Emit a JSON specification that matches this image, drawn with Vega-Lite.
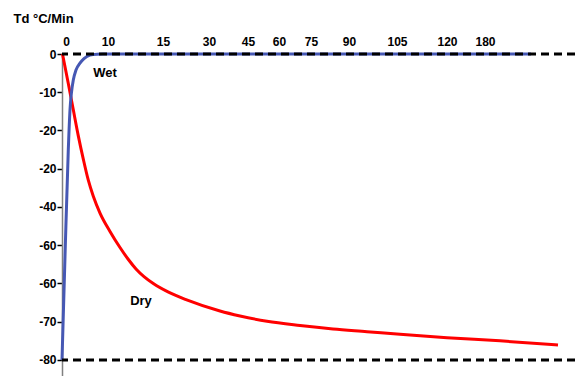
{
  "$schema": "https://vega.github.io/schema/vega-lite/v6.json",
  "width": 513,
  "height": 322,
  "autosize": {"type": "none"},
  "padding": {"left": 62, "top": 54, "right": 0, "bottom": 0},
  "background": "white",
  "config": {
    "view": {"stroke": null},
    "font": "Liberation Sans",
    "axis": {"grid": false, "labelFont": "Liberation Sans", "labelFontWeight": "bold", "labelFontSize": 12, "labelColor": "black", "titleFont": "Liberation Sans"}
  },
  "datasets": {
    "curves": [
      {"u": 0.5, "v": 0, "series": "Dry"},
      {"u": 6.3, "v": -7.7, "series": "Dry"},
      {"u": 11.3, "v": -14.6, "series": "Dry"},
      {"u": 16.3, "v": -21.4, "series": "Dry"},
      {"u": 21.3, "v": -27.5, "series": "Dry"},
      {"u": 26.3, "v": -33.0, "series": "Dry"},
      {"u": 31.3, "v": -37.2, "series": "Dry"},
      {"u": 38, "v": -41.6, "series": "Dry"},
      {"u": 48, "v": -46.4, "series": "Dry"},
      {"u": 58, "v": -50.6, "series": "Dry"},
      {"u": 66, "v": -53.6, "series": "Dry"},
      {"u": 74, "v": -56.2, "series": "Dry"},
      {"u": 82, "v": -58.2, "series": "Dry"},
      {"u": 91.3, "v": -60.0, "series": "Dry"},
      {"u": 106, "v": -62.2, "series": "Dry"},
      {"u": 124.7, "v": -64.3, "series": "Dry"},
      {"u": 158, "v": -67.2, "series": "Dry"},
      {"u": 178, "v": -68.5, "series": "Dry"},
      {"u": 205, "v": -69.9, "series": "Dry"},
      {"u": 238, "v": -71.0, "series": "Dry"},
      {"u": 271, "v": -71.9, "series": "Dry"},
      {"u": 305, "v": -72.6, "series": "Dry"},
      {"u": 338, "v": -73.3, "series": "Dry"},
      {"u": 385, "v": -74.2, "series": "Dry"},
      {"u": 438, "v": -75.0, "series": "Dry"},
      {"u": 496, "v": -76.1, "series": "Dry"},
      {"u": 0, "v": -80, "series": "Wet"},
      {"u": 3, "v": -53, "series": "Wet"},
      {"u": 6.3, "v": -25, "series": "Wet"},
      {"u": 8, "v": -14.6, "series": "Wet"},
      {"u": 9.5, "v": -10, "series": "Wet"},
      {"u": 11.3, "v": -6.8, "series": "Wet"},
      {"u": 14, "v": -4.2, "series": "Wet"},
      {"u": 18, "v": -2.4, "series": "Wet"},
      {"u": 22, "v": -1.2, "series": "Wet"},
      {"u": 28, "v": -0.3, "series": "Wet"},
      {"u": 35, "v": -0.05, "series": "Wet"},
      {"u": 41, "v": 0, "series": "Wet"},
      {"u": 469, "v": 0, "series": "Wet"}
    ],
    "refs": [{"v": 0}, {"v": -80}],
    "labels": [
      {"u": 43, "v": -5.0, "label": "Wet"},
      {"u": 79, "v": -64.6, "label": "Dry"}
    ]
  },
  "layer": [
    {
      "data": {"name": "curves"},
      "mark": {"type": "line", "strokeWidth": 3, "interpolate": "monotone"},
      "encoding": {
        "x": {
          "field": "u", "type": "quantitative",
          "scale": {"domain": [0, 513], "nice": false, "zero": false},
          "axis": {
            "orient": "top", "title": null, "domain": false, "ticks": false, "labelPadding": 6,
            "values": [4, 46, 101, 147, 186, 217, 249, 287, 335, 385, 423],
            "labelExpr": "['0','10','15','30','45','60','75','90','105','120','180'][indexof([4,46,101,147,186,217,249,287,335,385,423], datum.value)]",
            "labelFontSize": 12
          }
        },
        "y": {
          "field": "v", "type": "quantitative",
          "scale": {"domain": [-84.2, 0], "nice": false, "zero": false},
          "axis": {
            "title": "Td °C/Min", "titleAngle": 0, "titleAlign": "left", "titleBaseline": "alphabetic",
            "titleX": -49, "titleY": -32, "titleFontSize": 13, "titleFontWeight": "bold", "titleColor": "black",
            "values": [0, -10, -20, -30, -40, -50, -60, -70, -80],
            "labelExpr": "['0','-10','-20','-20','-40','-60','-60','-70','-80'][indexof([0,-10,-20,-30,-40,-50,-60,-70,-80], datum.value)]",
            "domainColor": "#808080", "domainWidth": 1.5,
            "tickColor": "black", "tickSize": 5, "tickWidth": 1.5, "labelPadding": 1
          }
        },
        "color": {
          "field": "series", "type": "nominal",
          "scale": {"domain": ["Dry", "Wet"], "range": ["#ff0000", "#4658b4"]},
          "legend": null
        }
      }
    },
    {
      "data": {"name": "refs"},
      "mark": {"type": "rule", "color": "black", "strokeWidth": 3, "strokeDash": [8, 5]},
      "encoding": {"y": {"field": "v", "type": "quantitative"}}
    },
    {
      "data": {"name": "labels"},
      "mark": {"type": "text", "fontSize": 13, "fontWeight": "bold", "font": "Liberation Sans", "color": "black", "align": "center", "baseline": "middle"},
      "encoding": {
        "x": {"field": "u", "type": "quantitative"},
        "y": {"field": "v", "type": "quantitative"},
        "text": {"field": "label"}
      }
    }
  ]
}
